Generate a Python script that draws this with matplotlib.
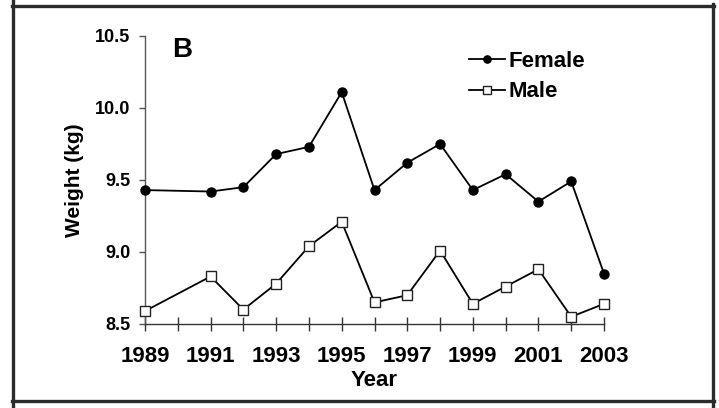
import matplotlib.pyplot as plt
from matplotlib.lines import Line2D

# Mean weight by year
years = [1989, 1991, 1992, 1993, 1994, 1995, 1996, 1997, 1998, 1999, 2000, 2001, 2002, 2003]
female = [9.43, 9.42, 9.45, 9.68, 9.73, 10.11, 9.43, 9.62, 9.75, 9.43, 9.54, 9.35, 9.49, 8.85]
male = [8.59, 8.83, 8.60, 8.78, 9.04, 9.21, 8.65, 8.70, 9.01, 8.64, 8.76, 8.88, 8.55, 8.64]

tick_years = list(range(1989, 2004))
tick_labels = [str(y) if y % 2 == 1 else '' for y in tick_years]
y_ticks = [8.5, 9.0, 9.5, 10.0, 10.5]

plt.rcParams['font.family'] = ['Liberation Sans', 'DejaVu Sans']
plt.rcParams['font.weight'] = 'bold'

fig = plt.figure(figsize=(7.19, 4.08), dpi=100)
ax = fig.add_axes([145 / 719, 1 - 324 / 408, (604 - 145) / 719, (324 - 36) / 408])

ax.plot(years, female, color='black', lw=1.3, marker='o', ms=6.5,
        mfc='black', mec='black', label='Female', clip_on=False, zorder=3)
ax.plot(years, male, color='black', lw=1.3, marker='s', ms=7.5,
        mfc='white', mec='#222222', mew=1.0, label='Male', clip_on=False, zorder=3)

ax.set_xlim(1989, 2003)
ax.set_ylim(8.5, 10.5)
ax.set_xticks(tick_years)
ax.set_xticklabels(tick_labels, fontsize=16, fontweight='bold')
ax.set_yticks(y_ticks)
ax.set_yticklabels([f'{v:.1f}' for v in y_ticks], fontsize=13, fontweight='bold')
ax.tick_params(axis='x', direction='inout', length=10, width=1.0, color='#333333', pad=11)
ax.tick_params(axis='y', direction='out', length=4.5, width=1.0, color='#555555', pad=6)

for side in ['top', 'right']:
    ax.spines[side].set_visible(False)
ax.spines['left'].set_color('#555555')
ax.spines['bottom'].set_color('#333333')
ax.spines['left'].set_linewidth(1.0)
ax.spines['bottom'].set_linewidth(1.0)

ax.set_xlabel('Year', fontsize=16, fontweight='bold', labelpad=2)
ax.set_ylabel('Weight (kg)', fontsize=15, fontweight='bold', labelpad=8)

fig.text(172 / 719, 1 - 57 / 408, 'B', fontsize=20, fontweight='bold', ha='left', va='baseline')

ax.legend(loc='upper left', bbox_to_anchor=(469 / 719, 1 - 51 / 408),
          bbox_transform=fig.transFigure, frameon=False, fontsize=16,
          handlelength=1.6, handletextpad=0.2, labelspacing=0.42,
          markerscale=0.8, borderpad=0, borderaxespad=0)

# frame around the panel
fc = '#2b2b2b'
flw = 2.4
W, H = 719, 408
fig.add_artist(Line2D([12.5 / W, 12.5 / W], [0, 1], color=fc, lw=flw))
fig.add_artist(Line2D([713 / W, 713 / W], [0, 1 - 4 / H], color=fc, lw=flw))
fig.add_artist(Line2D([12 / W, 714 / W], [1 - 5.5 / H, 1 - 5.5 / H], color=fc, lw=flw))
fig.add_artist(Line2D([12 / W, 714 / W], [1 - 401 / H, 1 - 401 / H], color=fc, lw=flw))

fig.savefig('out.png', dpi=100)
